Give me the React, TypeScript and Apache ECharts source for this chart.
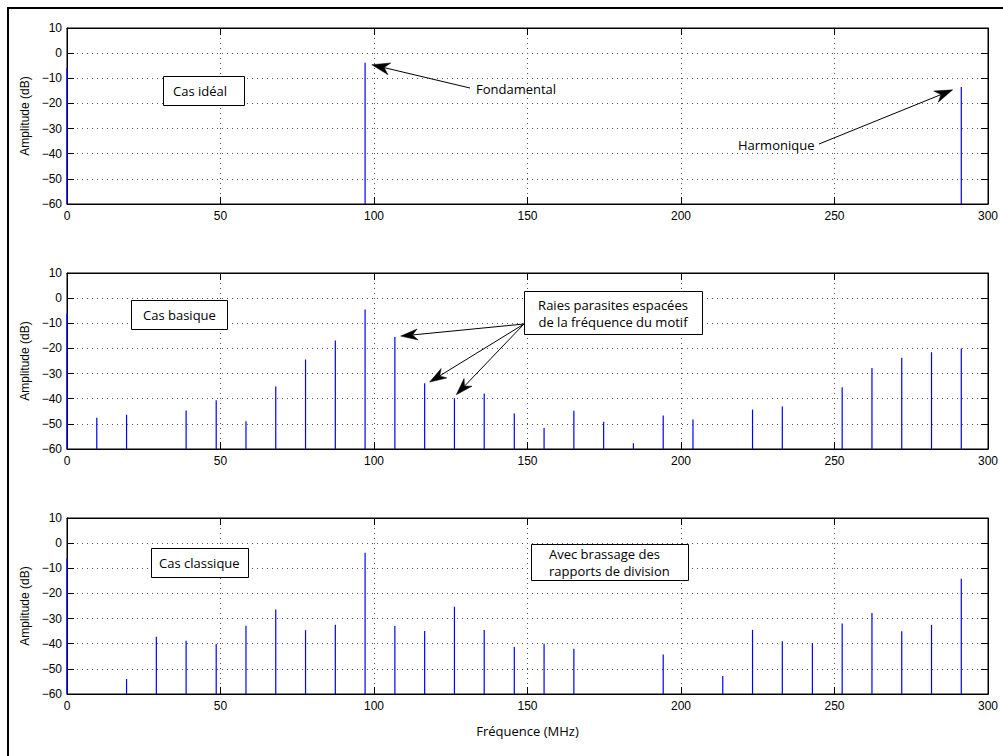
import React, { useEffect, useRef } from "react";
import * as echarts from "echarts";

// ---- data ----
const xTicks = [0, 50, 100, 150, 200, 250, 300];
const yTicks = [-60, -50, -40, -30, -20, -10, 0, 10];

const idealFreq = [0, 97.1, 291.3];
const idealAmp = [-6, -3.8, -13.5];

const basicFreq = [0, 9.7, 19.4, 38.8, 48.6, 58.3, 68.0, 77.7, 87.4, 97.1, 106.8, 116.5, 126.2, 135.9, 145.7, 155.4, 165.1, 174.8, 184.5, 194.2, 203.9, 223.3, 233.0, 252.5, 262.2, 271.9, 281.6, 291.3];
const basicAmp = [-6, -47.6, -46.4, -44.7, -40.6, -49, -35.1, -24.4, -16.8, -4.5, -15.5, -33.8, -39.8, -37.9, -45.9, -51.6, -44.8, -49.2, -57.7, -46.7, -48.3, -44.3, -43.1, -35.4, -27.8, -23.7, -21.5, -20];

const classicFreq = [0, 19.4, 29.1, 38.8, 48.6, 58.3, 68.0, 77.7, 87.4, 97.1, 106.8, 116.5, 126.2, 135.9, 145.7, 155.4, 165.1, 194.2, 213.6, 223.3, 233.0, 242.8, 252.5, 262.2, 271.9, 281.6, 291.3];
const classicAmp = [-6, -54, -37.2, -38.8, -40.1, -32.9, -26.4, -34.6, -32.5, -3.8, -33, -34.9, -25.3, -34.5, -41.3, -40, -42, -44.3, -52.8, -34.5, -39, -39.7, -32, -27.8, -35, -32.5, -14.2];

const panels = [
  { freq: idealFreq, amp: idealAmp, top: 28 },
  { freq: basicFreq, amp: basicAmp, top: 273 },
  { freq: classicFreq, amp: classicAmp, top: 518 },
];

const yLabel = "Amplitude (dB)";
const xLabel = "Fréquence (MHz)";

const X_MIN = xTicks[0];
const X_MAX = xTicks[xTicks.length - 1];
const Y_MIN = yTicks[0];
const Y_MAX = yTicks[yTicks.length - 1];

const TICK_FONT = "'Liberation Sans', Arial, sans-serif";
const NOTE_FONT = "'Open Sans', sans-serif";

function arrow(tail: number[], tip: number[], L = 17, W = 11) {
  const dx = tip[0] - tail[0];
  const dy = tip[1] - tail[1];
  const len = Math.sqrt(dx * dx + dy * dy);
  const ux = dx / len;
  const uy = dy / len;
  const px = -uy;
  const py = ux;
  const bx = tip[0] - ux * L;
  const by = tip[1] - uy * L;
  const nx = tip[0] - ux * L * 0.7;
  const ny = tip[1] - uy * L * 0.7;
  return [
    {
      type: "line",
      shape: { x1: tail[0], y1: tail[1], x2: nx, y2: ny },
      style: { stroke: "#000", lineWidth: 1 },
      z: 100,
    },
    {
      type: "polygon",
      shape: {
        points: [
          [tip[0], tip[1]],
          [bx + (px * W) / 2, by + (py * W) / 2],
          [nx, ny],
          [bx - (px * W) / 2, by - (py * W) / 2],
        ],
      },
      style: { fill: "#000", stroke: "#000", lineWidth: 0.5 },
      z: 100,
    },
  ];
}

function box(x: number, y: number, w: number, h: number, text: string, tx: number, ty: number, align = "left") {
  return [
    {
      type: "rect",
      shape: { x: x + 0.5, y: y + 0.5, width: w, height: h },
      style: { fill: "#fff", stroke: "#000", lineWidth: 1 },
      z: 100,
    },
    {
      type: "text",
      x: tx,
      y: ty,
      style: {
        text,
        fill: "#000",
        fontFamily: NOTE_FONT,
        fontSize: 13,
        align,
        verticalAlign: "middle",
        lineHeight: 17,
      },
      z: 101,
    },
  ];
}

function note(text: string, tx: number, ty: number) {
  return {
    type: "text",
    x: tx,
    y: ty,
    style: { text, fill: "#000", fontFamily: NOTE_FONT, fontSize: 13, align: "left", verticalAlign: "middle" },
    z: 101,
  };
}

export default function App() {
  const ref = useRef<HTMLDivElement>(null);

  useEffect(() => {
    if (!ref.current) return;
    const chart = echarts.init(ref.current, null, { renderer: "svg" });

    const grids: any[] = [];
    const xAxes: any[] = [];
    const yAxes: any[] = [];
    const series: any[] = [];

    const frameAxis = {
      axisLine: { show: true, onZero: false, lineStyle: { color: "#000", width: 1 } },
      axisTick: { show: true, inside: true, length: 7, lineStyle: { color: "#000" } },
    };

    panels.forEach((p, i) => {
      grids.push({ left: 67, top: p.top, width: 921, height: 176, show: true, borderColor: "#000", borderWidth: 1, backgroundColor: "#fff" });
      const isLast = i === panels.length - 1;
      // bottom x axis (labels)
      xAxes.push({
        type: "value",
        gridIndex: i,
        position: "bottom",
        min: X_MIN,
        max: X_MAX,
        interval: 50,
        name: isLast ? xLabel : "",
        nameLocation: "middle",
        nameGap: 30,
        nameTextStyle: { fontFamily: NOTE_FONT, fontSize: 13, color: "#000" },
        ...frameAxis,
        axisLabel: { show: true, margin: 6, color: "#000", fontFamily: TICK_FONT, fontSize: 12, showMinLabel: true, showMaxLabel: true },
        splitLine: { show: true, lineStyle: { color: "#555", type: [1, 4], width: 1 } },
      });
      // top x axis (ticks only)
      xAxes.push({
        type: "value",
        gridIndex: i,
        position: "top",
        min: X_MIN,
        max: X_MAX,
        interval: 50,
        ...frameAxis,
        axisLabel: { show: false },
        splitLine: { show: false },
      });
      yAxes.push({
        type: "value",
        gridIndex: i,
        position: "left",
        min: Y_MIN,
        max: Y_MAX,
        interval: 10,
        name: yLabel,
        nameLocation: "middle",
        nameGap: 33,
        nameTextStyle: { fontFamily: TICK_FONT, fontSize: 12, color: "#000" },
        ...frameAxis,
        axisLabel: {
          show: true,
          margin: 5,
          color: "#000",
          fontFamily: TICK_FONT,
          fontSize: 12,
          showMinLabel: true,
          showMaxLabel: true,
          formatter: (v: number) => (v < 0 ? "\u2212" + Math.abs(v) : String(v)),
        },
        splitLine: { show: true, lineStyle: { color: "#555", type: [1, 4], width: 1 } },
      });
      yAxes.push({
        type: "value",
        gridIndex: i,
        position: "right",
        min: Y_MIN,
        max: Y_MAX,
        interval: 10,
        ...frameAxis,
        axisLabel: { show: false },
        splitLine: { show: false },
      });

      series.push({
        type: "custom",
        xAxisIndex: i * 2,
        yAxisIndex: i * 2,
        clip: false,
        z: 10,
        data: p.freq.map((f, k) => [f, p.amp[k]]),
        encode: { x: 0, y: 1 },
        renderItem: (params: any, api: any) => {
          const x = api.value(0);
          const y = api.value(1);
          const p0 = api.coord([x, Y_MIN]);
          const p1 = api.coord([x, y]);
          return {
            type: "line",
            shape: { x1: p0[0], y1: p0[1], x2: p0[0], y2: p1[1] },
            style: { stroke: "#0000ff", lineWidth: 1.2 },
          };
        },
      });
    });

    chart.setOption({
      animation: false,
      backgroundColor: "#fff",
      grid: grids,
      xAxis: xAxes,
      yAxis: yAxes,
      series,
    });

    const px = (g: number, pt: number[]) => chart.convertToPixel({ gridIndex: g } as any, pt) as number[];

    const graphic: any[] = [
      // figure frame (top and left edges)
      { type: "line", shape: { x1: 7, y1: 8, x2: 1003, y2: 8 }, style: { stroke: "#000", lineWidth: 2 }, z: 100 },
      { type: "line", shape: { x1: 8, y1: 7, x2: 8, y2: 756 }, style: { stroke: "#000", lineWidth: 2 }, z: 100 },
      // panel 1
      ...box(163, 76, 81, 29, "Cas idéal", 173, 91),
      note("Fondamental", 476, 89),
      ...arrow([470, 88], px(0, [99.3, -4.6]), 18, 12),
      note("Harmonique", 738, 145),
      ...arrow([819, 144], px(0, [288.5, -14.6]), 18, 12),
      // panel 2
      ...box(131, 300, 96, 29, "Cas basique", 143, 315),
      ...box(524, 291, 178, 43, "Raies parasites espacées\nde la fréquence du motif", 613, 313.5, "center"),
      ...arrow([524, 324], px(1, [108.7, -15.1])),
      ...arrow([524, 324], px(1, [118.1, -33.4])),
      ...arrow([524, 324], px(1, [126.8, -38.4])),
      // panel 3
      ...box(151, 548, 97, 29, "Cas classique", 159, 563),
      ...box(531, 544, 157, 36, "Avec brassage des\nrapports de division", 549, 562),
    ];

    chart.setOption({ graphic });

    return () => chart.dispose();
  }, []);

  return (
    <div
      ref={ref}
      style={{ position: "fixed", left: 0, top: 0, width: 1003, height: 756, background: "#fff" }}
    />
  );
}
